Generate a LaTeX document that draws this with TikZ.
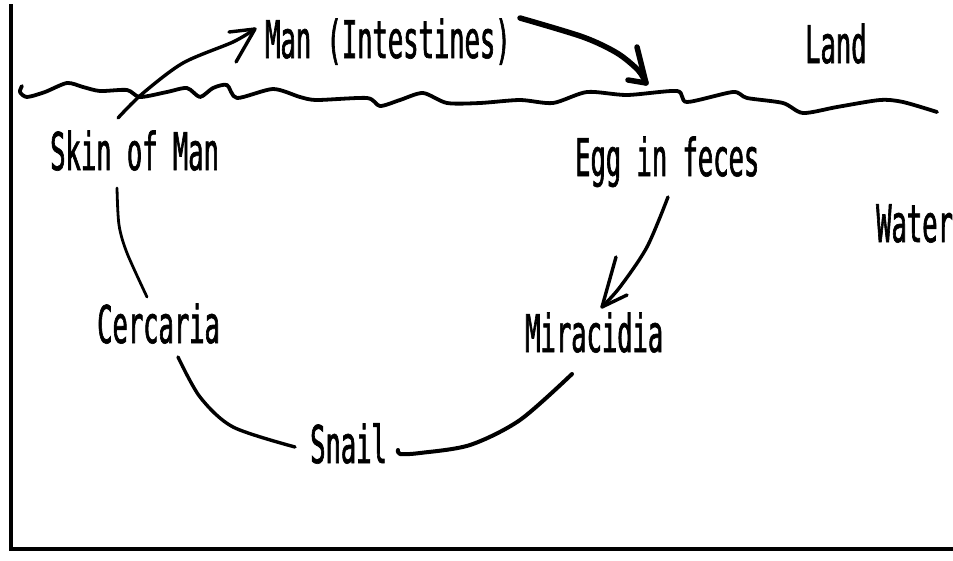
\documentclass[tikz,border=0pt]{standalone}
\usepackage{fontspec}
\newfontfamily\handfont[FakeStretch=0.49,FakeBold=1.2]{DejaVu Sans Mono}
\begin{document}
\begin{tikzpicture}[x=1pt,y=-1pt,
  lbl/.style={anchor=base west,inner sep=0pt,font=\handfont\fontsize{52}{60}\selectfont},
  ink/.style={line width=3.4pt,line cap=round,line join=round},
  thick ink/.style={line width=5.5pt,line cap=round,line join=round}]
\useasboundingbox[fill=white] (0,0) rectangle (953,560);
% frame
\draw[line width=4pt] (11,4) -- (11,549) -- (953,549);
% shore line
\draw[line width=3.8pt,line cap=round,line join=round] plot[smooth,tension=0.45] coordinates {
 (22,86) (20,92) (27,97) (45,92) (67,83) (83,87) (100,91) (127,90) (140,97) (167,92) (187,88)
 (200,97) (213,88) (227,85) (237,98) (273,89) (300,97) (317,100) (367,98) (380,106) (400,100)
 (423,93) (447,103) (480,103) (520,100) (553,103) (587,92) (627,95) (677,91) (687,102) (733,92)
 (747,98) (783,103) (803,113) (837,107) (880,100) (903,102) (937,112)};
% labels
\node[lbl] (man) at (265,58) {Man (Intestines)};
\node[lbl] (land) at (805,63) {Land};
\node[lbl] (skin) at (50,170) {Skin of Man};
\node[lbl] (egg) at (575,176) {Egg in feces};
\node[lbl] (water) at (876,242) {Water};
\node[lbl] (cerc) at (97,343) {Cercaria};
\node[lbl] (mira) at (525,352) {Miracidia};
\node[lbl] (snail) at (310,463) {Snail};
% connector end points
\coordinate (s1) at (118,118);
\coordinate (t1) at (255,29);
\coordinate (s2) at (520,18);
\coordinate (t2) at (646,83);
\coordinate (s3) at (668,197);
\coordinate (t3) at (602,307);
\coordinate (s4) at (572,374);
\coordinate (t4) at (398,450);
\coordinate (s5) at (295,447);
\coordinate (t5) at (178,357);
\coordinate (s6) at (117,188);
\coordinate (t6) at (147,297);
% skin -> man
\draw[ink] plot[smooth] coordinates {(s1) (142,94) (183,63) (233,42) (t1)};
\draw[ink] (229,32) -- (t1) -- (236,62);
% man -> egg (land to water)
\draw[thick ink] plot[smooth] coordinates {(s2) (583,37) (617,53) (638,70) (t2)};
\draw[thick ink] (637,47) -- (t2) -- (628,80);
% egg -> miracidia
\draw[ink] plot[smooth] coordinates {(s3) (647,247) (620,287) (t3)};
\draw[ink] (616,257) -- (t3) -- (627,295);
% miracidia -> snail
\draw[ink,line width=4pt] plot[smooth] coordinates {(s4) (520,420) (470,445) (420,453) (400,454) (t4)};
% snail -> cercaria
\draw[ink] plot[smooth] coordinates {(s5) (233,427) (200,397) (t5)};
% cercaria -> skin
\draw[ink,line width=2.8pt] plot[smooth] coordinates {(s6) (119,225) (127,253) (t6)};
\end{tikzpicture}
\end{document}
